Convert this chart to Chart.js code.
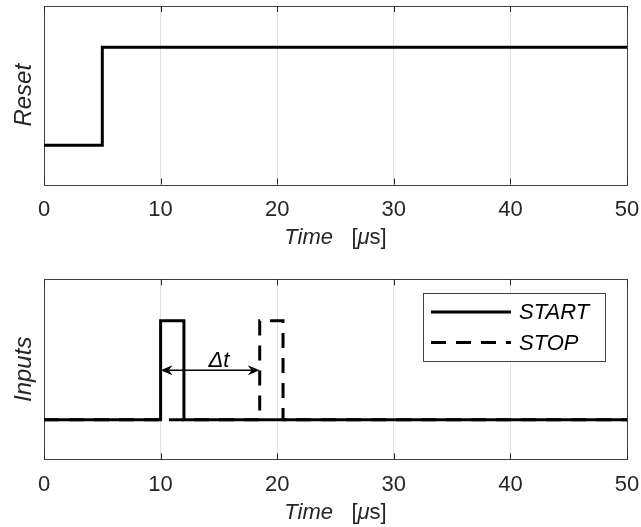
<!DOCTYPE html>
<html><head><meta charset="utf-8">
<script src="https://cdn.jsdelivr.net/npm/chart.js@4/dist/chart.umd.min.js"></script>
<style>
html,body{margin:0;padding:0;background:#fff;}
#wrap{width:641px;height:527px;position:relative;overflow:hidden;}
.box{position:absolute;left:0;width:641px;}
</style></head><body>
<div id="wrap">
<div class="box" style="top:0;height:263px"><canvas id="c1"></canvas></div>
<div class="box" style="top:263px;height:264px"><canvas id="c2"></canvas></div>
</div>
<script>
// ---- data ----
const timeTicks = [0, 10, 20, 30, 40, 50];
const resetTime  = [0, 5, 5, 50];
const resetValue = [0, 0, 1, 1];
const startTime  = [0, 10, 10, 12, 12, 50];
const startValue = [0, 0, 1, 1, 0, 0];
const stopTime   = [0, 18.5, 18.5, 20.5, 20.5, 50];
const stopValue  = [0, 0, 1, 1, 0, 0];
const deltaArrowTime = [10, 18.5];
const deltaArrowLevel = [0.5];
const deltaLabel = ['Δt', 15];
const seriesLabels = ['Reset', 'START', 'STOP', 'Inputs'];
const xTitleParts = [['Time', true], ['   [', false], ['μ', true], ['s]', false]];

// ---- helpers ----
const FONT = "'Liberation Sans', Arial, sans-serif";
const INK = '#262626';
const zip = (xs, ys) => xs.map((x, i) => ({x: x, y: ys[i]}));

const framePlugin = {
  id: 'frame',
  beforeDatasetsDraw(chart) {
    const {ctx, chartArea: a, scales} = chart;
    ctx.save();
    ctx.strokeStyle = '#404040';
    ctx.lineWidth = 1;
    ctx.strokeRect(Math.round(a.left) + 0.5, Math.round(a.top) + 0.5,
      Math.round(a.right) - Math.round(a.left), Math.round(a.bottom) - Math.round(a.top));
    ctx.strokeStyle = INK;
    scales.x.ticks.forEach(t => {
      const px = Math.round(scales.x.getPixelForValue(t.value)) + 0.5;
      ctx.beginPath();
      ctx.moveTo(px, a.bottom); ctx.lineTo(px, a.bottom - 6);
      ctx.moveTo(px, a.top); ctx.lineTo(px, a.top + 6);
      ctx.stroke();
    });
    ctx.restore();
  }
};

const xTitlePlugin = {
  id: 'xtitle',
  afterDraw(chart) {
    const {ctx, chartArea: a} = chart;
    ctx.save();
    ctx.fillStyle = INK;
    ctx.textBaseline = 'alphabetic';
    const fonts = xTitleParts.map(p => (p[1] ? 'italic ' : '') + '22px ' + FONT);
    let total = 0;
    const widths = xTitleParts.map((p, i) => { ctx.font = fonts[i]; const w = ctx.measureText(p[0]).width; total += w; return w; });
    let x = (a.left + a.right) / 2 - total / 2;
    const y = a.bottom + 59.5;
    xTitleParts.forEach((p, i) => { ctx.font = fonts[i]; ctx.textAlign = 'left'; ctx.fillText(p[0], x, y); x += widths[i]; });
    ctx.restore();
  }
};

const legendPlugin = {
  id: 'boxlegend',
  afterDraw(chart) {
    if (!chart.options.plugins.boxlegend || !chart.options.plugins.boxlegend.show) return;
    const {ctx, chartArea: a} = chart;
    const left = a.right - 22 - 182, top = a.top + 14, w = 182, h = 68;
    ctx.save();
    ctx.fillStyle = '#fff';
    ctx.fillRect(left, top, w, h);
    ctx.strokeStyle = '#404040';
    ctx.lineWidth = 1;
    ctx.strokeRect(Math.round(left) + 0.5, Math.round(top) + 0.5, w, h);
    chart.data.datasets.forEach((ds, i) => {
      const y = top + 18.7 + i * 30.6;
      ctx.strokeStyle = ds.borderColor;
      ctx.lineWidth = ds.borderWidth;
      ctx.setLineDash(ds.borderDash || []);
      ctx.beginPath(); ctx.moveTo(left + 8, y); ctx.lineTo(left + 88, y); ctx.stroke();
      ctx.setLineDash([]);
      ctx.fillStyle = '#000';
      ctx.font = 'italic 22px ' + FONT;
      ctx.textBaseline = 'middle';
      ctx.textAlign = 'left';
      ctx.fillText(ds.label, left + 96, y + 1);
    });
    ctx.restore();
  }
};

const arrowPlugin = {
  id: 'deltaArrow',
  afterDatasetsDraw(chart) {
    if (!chart.options.plugins.deltaArrow || !chart.options.plugins.deltaArrow.show) return;
    const {ctx, scales} = chart;
    const x1 = scales.x.getPixelForValue(deltaArrowTime[0]);
    const x2 = scales.x.getPixelForValue(deltaArrowTime[1]);
    const y = scales.y.getPixelForValue(deltaArrowLevel[0]);
    ctx.save();
    ctx.strokeStyle = '#000'; ctx.fillStyle = '#000';
    ctx.lineWidth = 1.5;
    ctx.beginPath(); ctx.moveTo(x1 + 4, y); ctx.lineTo(x2 - 4, y); ctx.stroke();
    const head = (tip, dir) => {
      ctx.beginPath();
      ctx.moveTo(tip, y);
      ctx.lineTo(tip + dir * 12, y - 5);
      ctx.lineTo(tip + dir * 8, y);
      ctx.lineTo(tip + dir * 12, y + 5);
      ctx.closePath();
      ctx.fill();
    };
    head(x1, 1); head(x2, -1);
    ctx.font = 'italic 22px ' + FONT;
    ctx.textAlign = 'center';
    ctx.textBaseline = 'alphabetic';
    ctx.fillText(deltaLabel[0], scales.x.getPixelForValue(deltaLabel[1]), y - 3.5);
    ctx.restore();
  }
};

function makeChart(id, datasets, yTitle, padTop, xHeight, extras) {
  return new Chart(document.getElementById(id), {
    type: 'scatter',
    data: {datasets: datasets},
    options: {
      responsive: true,
      maintainAspectRatio: false,
      animation: false,
      devicePixelRatio: 1,
      layout: {padding: {top: padTop, right: 14, left: 0, bottom: 0}},
      plugins: Object.assign({legend: {display: false}, tooltip: {enabled: false}}, extras),
      scales: {
        x: {
          type: 'linear', min: 0, max: 50,
          afterBuildTicks: s => { s.ticks = timeTicks.map(v => ({value: v})); },
          afterFit: s => { s.height = xHeight; s.paddingLeft = 0; s.paddingRight = 0; },
          grid: {color: '#dfdfdf', lineWidth: 1, drawTicks: false},
          border: {display: false},
          ticks: {color: INK, font: {family: FONT, size: 22}, padding: 12, maxRotation: 0, autoSkip: false},
          title: {display: false}
        },
        y: {
          type: 'linear', min: -0.4, max: 1.42,
          afterFit: s => { s.width = 44; s.paddingTop = 0; s.paddingBottom = 0; },
          grid: {display: false},
          border: {display: false},
          ticks: {display: false},
          title: {display: true, text: yTitle, color: INK,
                  font: {family: FONT, size: 24, style: 'italic'}, padding: {top: 10, bottom: 0}}
        }
      }
    },
    plugins: [framePlugin, xTitlePlugin, arrowPlugin, legendPlugin]
  });
}

makeChart('c1', [{
  label: seriesLabels[0], data: zip(resetTime, resetValue), showLine: true,
  borderColor: '#000', borderWidth: 3, pointRadius: 0, fill: false, tension: 0
}], seriesLabels[0], 6, 78.5, {});

makeChart('c2', [{
  label: seriesLabels[1], data: zip(startTime, startValue), showLine: true, order: 0,
  borderColor: '#000', borderWidth: 3, pointRadius: 0, fill: false, tension: 0
}, {
  label: seriesLabels[2], data: zip(stopTime, stopValue), showLine: true, order: 1,
  borderColor: '#000', borderWidth: 3, borderDash: [15, 10], pointRadius: 0, fill: false, tension: 0
}], seriesLabels[3], 16.3, 67.7, {deltaArrow: {show: true}, boxlegend: {show: true}});
</script>
</body></html>
